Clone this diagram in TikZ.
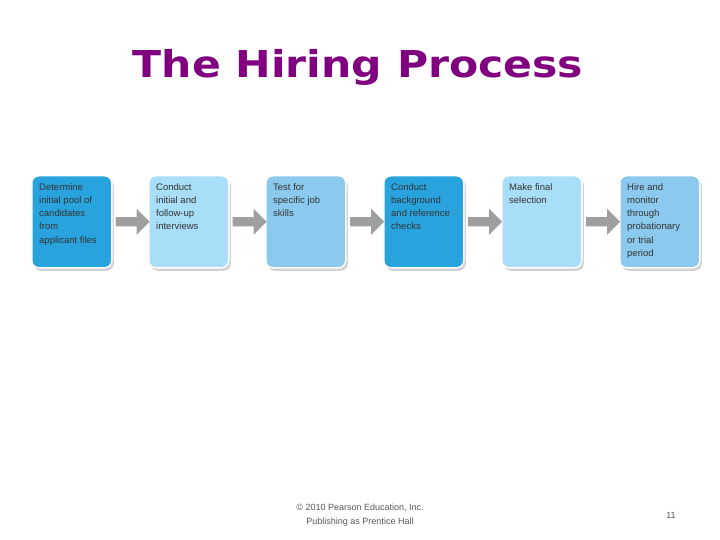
\documentclass[tikz,border=0pt]{standalone}
\usepackage{fontspec}
\setmainfont{Liberation Sans}
\newfontfamily\titlefont{DejaVu Sans}
\usetikzlibrary{shapes.arrows,shadows}
\definecolor{dk}{HTML}{29A3DD}
\definecolor{lt}{HTML}{A8DEF7}
\definecolor{md}{HTML}{8CC9EF}
\definecolor{ttl}{HTML}{800080}
\tikzset{
 stepbox/.style={draw=white,line width=1.5pt,rounded corners=7pt,minimum width=80pt,minimum height=92pt,
   anchor=north west,drop shadow={shadow xshift=2pt,shadow yshift=-3pt,opacity=0.35}},
 steptext/.style={anchor=north west,align=left,inner sep=0pt,font=\fontsize{9.5}{13.3}\selectfont,text=black!80},
 arr/.style={fill=gray!75,draw=none,single arrow,minimum width=26pt,single arrow head extend=6pt,minimum height=34pt,inner sep=3pt,single arrow tip angle=90},
 foot/.style={text=black!65,font=\fontsize{9}{14}\selectfont,align=center}
}
\begin{document}
\begin{tikzpicture}[x=1pt,y=-1pt]
\useasboundingbox[fill=white] (0,0) rectangle (720,540);
\node[font=\titlefont\bfseries\fontsize{37}{40}\selectfont,text=ttl,xscale=1.15] (title) at (358,67) {The Hiring Process};
\node[stepbox,fill=dk] (b1) at (31,175) {};
\node[stepbox,fill=lt] (b2) at (148,175) {};
\node[stepbox,fill=md] (b3) at (265,175) {};
\node[stepbox,fill=dk] (b4) at (383,175) {};
\node[stepbox,fill=lt] (b5) at (501,175) {};
\node[stepbox,fill=md] (b6) at (619,175) {};
\node[steptext] (t1) at ([shift={(8,8)}]b1.north west) {Determine\\initial pool of\\candidates\\from\\applicant files};
\node[steptext] (t2) at ([shift={(8,8)}]b2.north west) {Conduct\\initial and\\follow-up\\interviews};
\node[steptext] (t3) at ([shift={(8,8)}]b3.north west) {Test for\\specific job\\skills};
\node[steptext] (t4) at ([shift={(8,8)}]b4.north west) {Conduct\\background\\and reference\\checks};
\node[steptext] (t5) at ([shift={(8,8)}]b5.north west) {Make final\\selection};
\node[steptext] (t6) at ([shift={(8,8)}]b6.north west) {Hire and\\monitor\\through\\probationary\\or trial\\period};
\foreach \a/\b in {b1/b2,b2/b3,b3/b4,b4/b5,b5/b6}{
  \path (\a.east) -- (\b.west) node[midway,arr] {};
}
\node[foot] (f) at (360,515) {© 2010 Pearson Education, Inc.\\Publishing as Prentice Hall};
\node[foot] (pg) at (671,515) {11};
\end{tikzpicture}
\end{document}
